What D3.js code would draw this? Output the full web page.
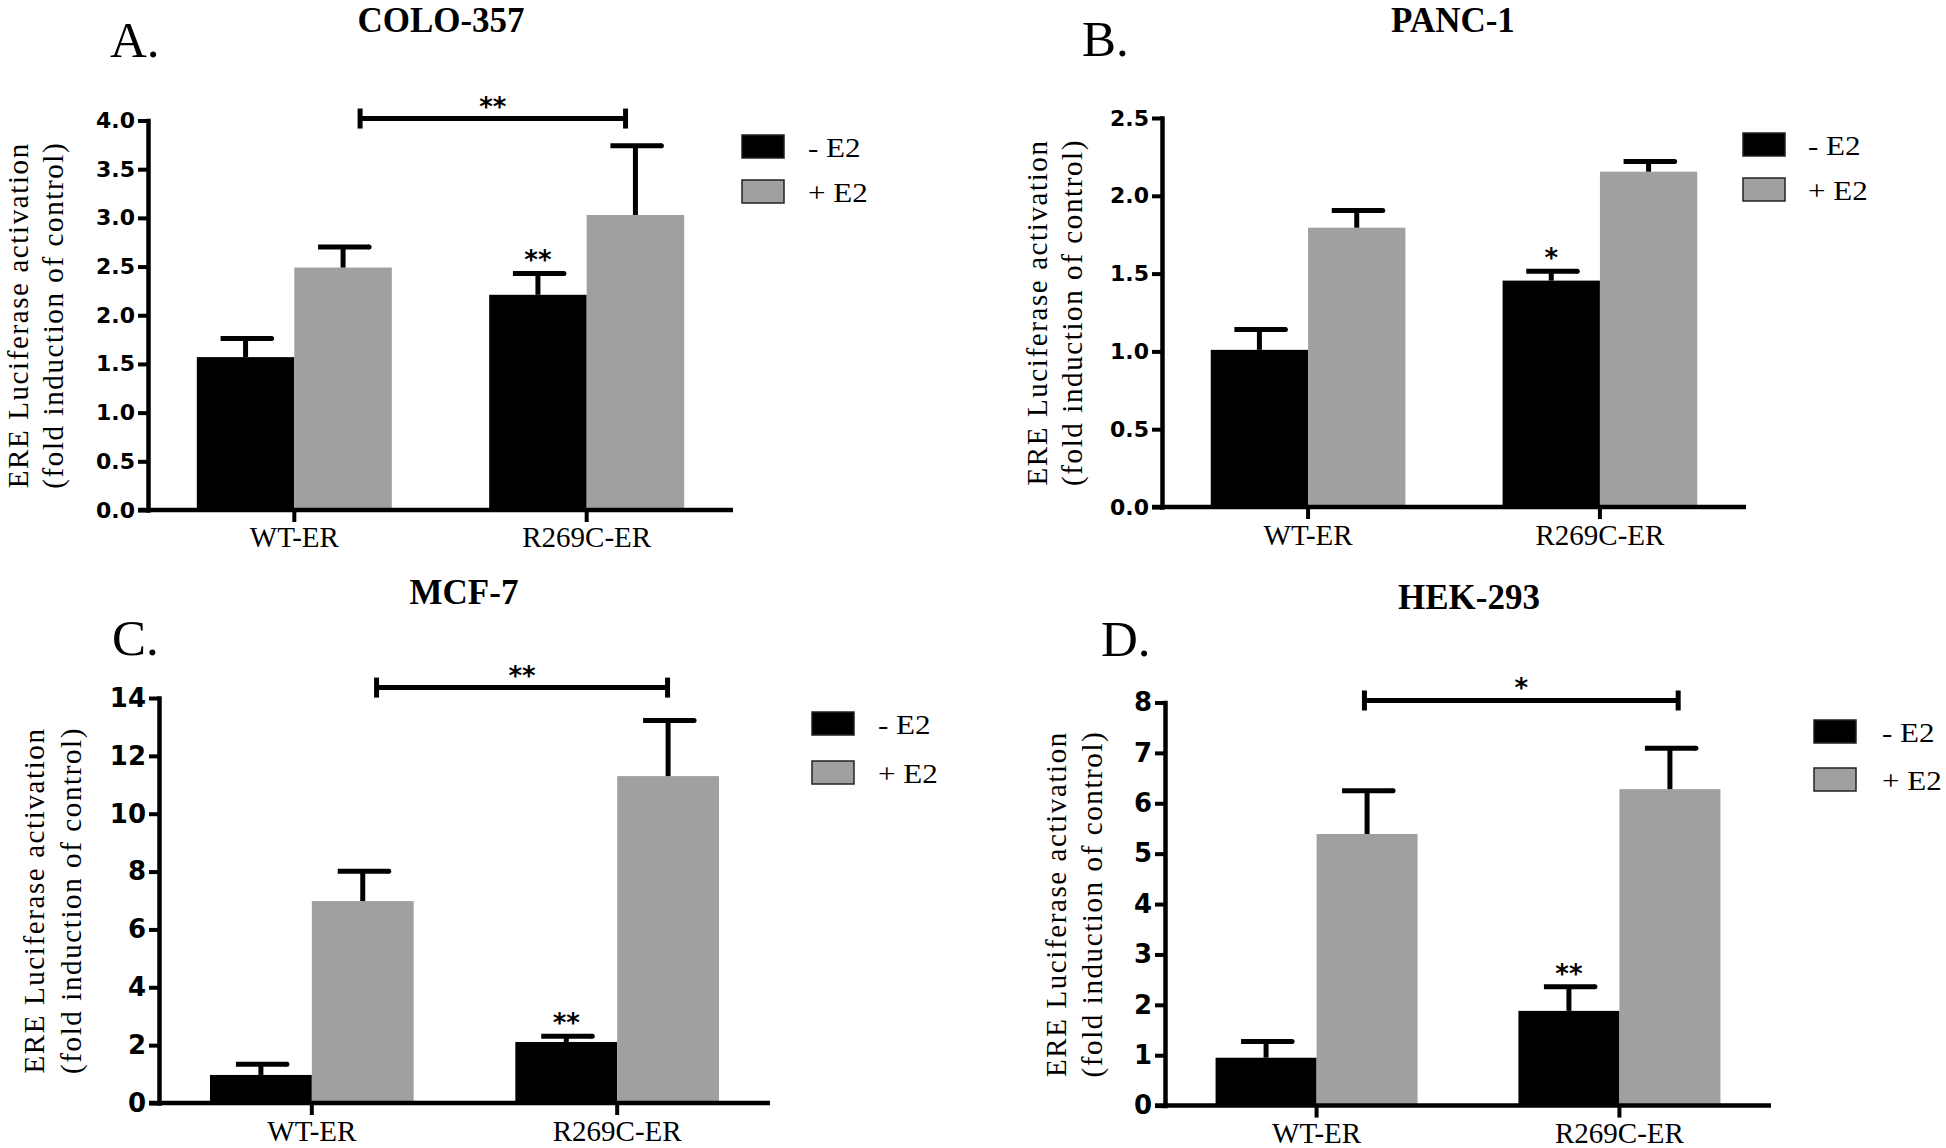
<!DOCTYPE html>
<html><head><meta charset="utf-8">
<script src="https://cdn.jsdelivr.net/npm/d3@7"></script>
<style>body{margin:0;background:#fff} svg{display:block;background:#fff}</style>
</head><body>
<svg id="chart" width="1946" height="1148"></svg>
<script>
// ---------------- DATA ----------------
const categories = ["WT-ER", "R269C-ER"];
const seriesNames = ["- E2", "+ E2"];
const panelTitles = ["COLO-357", "PANC-1", "MCF-7", "HEK-293"];
const panelLetters = ["A.", "B.", "C.", "D."];
const yAxisTitle = ["ERE Luciferase activation", "(fold induction of control)"];

// COLO-357
const coloMinus = [1.57, 2.21];
const coloMinusErr = [0.19, 0.22];
const coloPlus = [2.49, 3.03];
const coloPlusErr = [0.21, 0.71];
const coloTicks = [0, 0.5, 1.0, 1.5, 2.0, 2.5, 3.0, 3.5, 4.0];

// PANC-1
const pancMinus = [1.01, 1.455];
const pancMinusErr = [0.13, 0.06];
const pancPlus = [1.795, 2.155];
const pancPlusErr = [0.11, 0.065];
const pancTicks = [0, 0.5, 1.0, 1.5, 2.0, 2.5];

// MCF-7
const mcfMinus = [0.97, 2.11];
const mcfMinusErr = [0.37, 0.20];
const mcfPlus = [6.98, 11.30];
const mcfPlusErr = [1.03, 1.92];
const mcfTicks = [0, 2, 4, 6, 8, 10, 12, 14];

// HEK-293
const hekMinus = [0.95, 1.88];
const hekMinusErr = [0.32, 0.48];
const hekPlus = [5.39, 6.28];
const hekPlusErr = [0.86, 0.81];
const hekTicks = [0, 1, 2, 3, 4, 5, 6, 7, 8];

// significance annotations
const barStars = ["**", "*", "**", "**"];          // above R269C-ER, - E2
const bracketLabels = ["**", null, "**", "*"];       // WT vs R269C bracket
const bracketSpans = [[0.225, 1.133], null, [0.212, 1.165], [0.158, 1.194]]; // in category units
const bracketLevels = [4.02, null, 14.36, 8.04];

// ---------------- LAYOUT / STYLE ----------------
const seriesColors = ["#000000", "#a0a0a0"];
const serif = "'Liberation Serif','Times New Roman',serif";
const sans = "'DejaVu Sans',sans-serif";

const layouts = [
  {axisX:148, axisEnd:733, yBase:510, yTop:120.5, titleX:441, titleY:32, letterX:110, letterY:57,
   legendX:742, legendY:135, legendGap:45, legendTextX:808, yTitleX:[28,63], xLabelY:547, fmt:".1f", tickFont:22},
  {axisX:1162, axisEnd:1746, yBase:507, yTop:118, titleX:1453, titleY:32, letterX:1082, letterY:56,
   legendX:1743, legendY:133, legendGap:45, legendTextX:1808, yTitleX:[1047,1082], xLabelY:545, fmt:".1f", tickFont:22},
  {axisX:159, axisEnd:770, yBase:1103, yTop:698, titleX:464, titleY:604, letterX:112, letterY:655,
   legendX:812, legendY:712, legendGap:49, legendTextX:878, yTitleX:[44,81], xLabelY:1141, fmt:"d", tickFont:26},
  {axisX:1165, axisEnd:1771, yBase:1105.6, yTop:702.5, titleX:1469, titleY:609, letterX:1101, letterY:656,
   legendX:1814, legendY:720, legendGap:48, legendTextX:1882, yTitleX:[1066,1102], xLabelY:1143, fmt:"d", tickFont:26}
];

const panels = [
  {minus:coloMinus, minusErr:coloMinusErr, plus:coloPlus, plusErr:coloPlusErr, ticks:coloTicks},
  {minus:pancMinus, minusErr:pancMinusErr, plus:pancPlus, plusErr:pancPlusErr, ticks:pancTicks},
  {minus:mcfMinus, minusErr:mcfMinusErr, plus:mcfPlus, plusErr:mcfPlusErr, ticks:mcfTicks},
  {minus:hekMinus, minusErr:hekMinusErr, plus:hekPlus, plusErr:hekPlusErr, ticks:hekTicks}
];

const svg = d3.select("#chart");

panels.forEach((p, pi) => {
  const L = layouts[pi];
  const g = svg.append("g");
  const yMax = d3.max(p.ticks);

  const x = d3.scaleBand().domain(categories).range([L.axisX, L.axisEnd])
    .paddingInner(0.333).paddingOuter(0.167);
  const xs = d3.scaleBand().domain(seriesNames).range([0, x.bandwidth()]).padding(0);
  const y = d3.scaleLinear().domain([0, yMax]).range([L.yBase, L.yTop]);
  const color = d3.scaleOrdinal().domain(seriesNames).range(seriesColors);
  const catPos = d3.scaleLinear().domain([0, 1])
    .range([x(categories[0]) + x.bandwidth()/2, x(categories[1]) + x.bandwidth()/2]);

  const rows = [];
  categories.forEach((c, i) => {
    rows.push({c, s:seriesNames[0], v:p.minus[i], e:p.minusErr[i], i});
    rows.push({c, s:seriesNames[1], v:p.plus[i], e:p.plusErr[i], i});
  });

  // bars
  g.selectAll("rect.bar").data(rows).join("rect").attr("class","bar")
    .attr("x", d => x(d.c) + xs(d.s))
    .attr("width", xs.bandwidth())
    .attr("y", d => y(d.v))
    .attr("height", d => y(0) - y(d.v))
    .attr("fill", d => color(d.s));

  // error bars
  const eb = g.selectAll("g.err").data(rows).join("g").attr("class","err");
  const cxOf = d => x(d.c) + xs(d.s) + xs.bandwidth()/2;
  eb.append("line")
    .attr("x1", cxOf).attr("x2", cxOf)
    .attr("y1", d => y(d.v)).attr("y2", d => y(d.v + d.e))
    .attr("stroke", "#000").attr("stroke-width", 5);
  eb.append("line")
    .attr("x1", d => cxOf(d) - 25).attr("x2", d => cxOf(d) + 26)
    .attr("y1", d => y(d.v + d.e)).attr("y2", d => y(d.v + d.e))
    .attr("stroke", "#000").attr("stroke-width", 5);
  eb.append("circle")
    .attr("cx", d => cxOf(d) + 26).attr("cy", d => y(d.v + d.e)).attr("r", 2.5).attr("fill", "#000");

  // star above R269C-ER - E2 bar
  const starRow = rows.find(d => d.i === 1 && d.s === seriesNames[0]);
  g.append("text")
    .attr("x", cxOf(starRow)).attr("y", y(starRow.v + starRow.e) - 18 + 14)
    .attr("text-anchor", "middle").attr("font-family", sans).attr("font-weight", "bold")
    .attr("font-size", 26).text(barStars[pi]);

  // bracket
  if (bracketLabels[pi]) {
    const by = y(bracketLevels[pi]);
    const bx0 = catPos(bracketSpans[pi][0]), bx1 = catPos(bracketSpans[pi][1]);
    g.append("line").attr("x1", bx0).attr("x2", bx1).attr("y1", by).attr("y2", by)
      .attr("stroke", "#000").attr("stroke-width", 5);
    [bx0, bx1].forEach(bx => g.append("line").attr("x1", bx).attr("x2", bx)
      .attr("y1", by - 10).attr("y2", by + 10).attr("stroke", "#000").attr("stroke-width", 5));
    g.append("text").attr("x", (bx0 + bx1)/2).attr("y", by - 17 + 14)
      .attr("text-anchor", "middle").attr("font-family", sans).attr("font-weight", "bold")
      .attr("font-size", 26).text(bracketLabels[pi]);
  }

  // y axis
  const yAxis = g.append("g").attr("transform", `translate(${L.axisX},0)`)
    .call(d3.axisLeft(y).tickValues(p.ticks).tickFormat(d3.format(L.fmt))
      .tickSize(10).tickSizeOuter(0).tickPadding(3));
  yAxis.select(".domain").attr("stroke-width", 4.5).attr("stroke-linecap", "square");
  yAxis.selectAll(".tick line").attr("stroke-width", 4);
  yAxis.selectAll(".tick text").attr("font-family", sans).attr("font-weight", "bold")
    .attr("font-size", L.tickFont).attr("fill", "#000");

  // x axis
  g.append("line").attr("x1", L.axisX - 10).attr("x2", L.axisEnd)
    .attr("y1", L.yBase).attr("y2", L.yBase).attr("stroke", "#000").attr("stroke-width", 4.5);
  const xAxis = g.append("g").attr("transform", `translate(0,${L.yBase})`)
    .call(d3.axisBottom(x).tickSize(12).tickSizeOuter(0));
  xAxis.select(".domain").remove();
  xAxis.selectAll(".tick line").attr("stroke-width", 4);
  xAxis.selectAll(".tick text").attr("font-family", serif).attr("font-size", 29)
    .attr("fill", "#000").attr("y", L.xLabelY - L.yBase).attr("dy", 0);

  // y title
  yAxisTitle.forEach((t, k) => {
    g.append("text")
      .attr("transform", `translate(${L.yTitleX[k]},${(L.yBase + L.yTop)/2}) rotate(-90)`)
      .attr("text-anchor", "middle").attr("font-family", serif).attr("font-size", 29)
      .attr("letter-spacing", 1.6).text(t);
  });

  // title and letter
  g.append("text").attr("x", L.titleX).attr("y", L.titleY).attr("text-anchor", "middle")
    .attr("font-family", serif).attr("font-weight", "bold").attr("font-size", 35).text(panelTitles[pi]);
  g.append("text").attr("x", L.letterX).attr("y", L.letterY)
    .attr("font-family", serif).attr("font-size", 51).text(panelLetters[pi]);

  // legend
  seriesNames.forEach((s, k) => {
    const ly = L.legendY + k * L.legendGap;
    g.append("rect").attr("x", L.legendX).attr("y", ly).attr("width", 42).attr("height", 23)
      .attr("fill", color(s)).attr("stroke", "#222").attr("stroke-width", 1.5);
    g.append("text").attr("transform", `translate(${L.legendTextX},${ly + 22}) scale(1.15,1)`)
      .attr("font-family", serif).attr("font-size", 27).text(s);
  });
});
</script>
</body></html>
